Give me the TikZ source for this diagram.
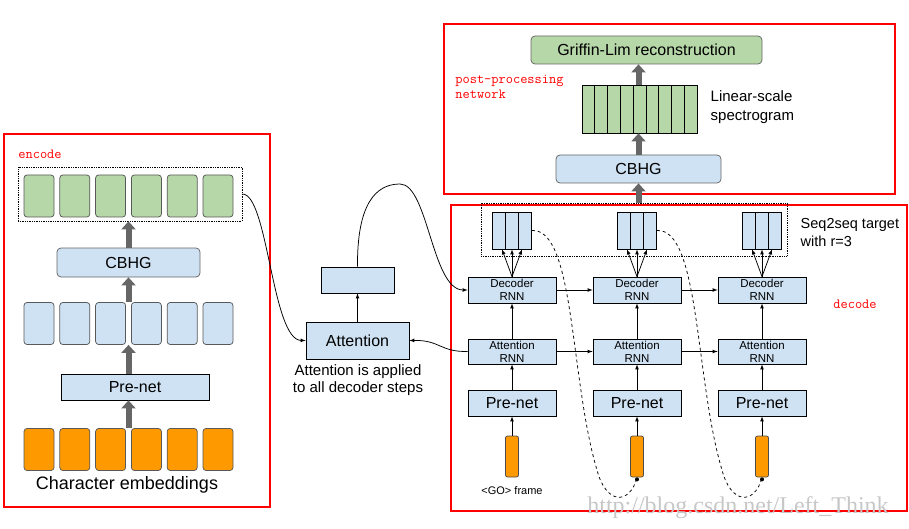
\documentclass[tikz,border=0pt]{standalone}
\usepackage{fontspec}
\setmainfont{Liberation Sans}
\newfontfamily\markfont{Liberation Serif}
\usepackage{xcolor}
\usetikzlibrary{arrows,arrows.meta,positioning}
\definecolor{cellgreen}{HTML}{B6D7A8}
\definecolor{cellblue}{HTML}{CFE2F3}
\definecolor{cellorange}{HTML}{FF9900}
\definecolor{fatgrey}{HTML}{666666}

\begin{document}
\begin{tikzpicture}[x=1pt, y=-1pt, >=latex, line width=0.75pt,
    cell/.style={draw=black!65, rounded corners=3pt, minimum width=30pt, minimum height=42pt, inner sep=0pt},
    box/.style={draw=black, fill=cellblue, inner sep=0pt, align=center},
    rbox/.style={box, draw=black!60, rounded corners=4pt},
    slot/.style={draw=black, fill=cellblue, minimum width=13pt, minimum height=37pt, inner sep=0pt},
    fat/.style={draw=fatgrey, line width=6pt, -{Triangle[length=8pt,width=14pt]}},
    redframe/.style={draw=red, line width=1.6pt},
    redlabel/.style={text=red, font=\ttfamily\fontsize{14}{15}\selectfont, align=left, anchor=west, inner sep=0pt},
    big/.style={font=\fontsize{16}{18}\selectfont},
    small/.style={font=\fontsize{11.5}{13}\selectfont}]
    \useasboundingbox (0,0) rectangle (909,529);

    % encoder
    \draw[redframe] (4,134) rectangle (270,507);
    \node[redlabel] (enclbl) at (18,154) {encode};
    \foreach \i in {0,...,5} {
        \node[cell, fill=cellgreen] (e\i) at (39+35.8*\i,196) {};
        \node[cell, fill=cellblue] (h\i) at (39+35.8*\i,323.5) {};
        \node[cell, fill=cellorange] (c\i) at (39+35.8*\i,449.5) {};
    }
    \node[draw, densely dotted, minimum width=224pt, minimum height=54pt] (enc) at (130,194) {};
    \node[rbox, big, minimum width=143pt, minimum height=29pt] (cbhg) at (128.5,262.5) {CBHG};
    \node[box, big, minimum width=148pt, minimum height=26pt] (pre) at (135,387) {Pre-net};
    \node[font=\fontsize{18}{20}\selectfont] (chars) at (127,485) {Character embeddings};
    \draw[fat] (cbhg |- c0.north) -- (cbhg |- pre.south);
    \draw[fat] (cbhg |- pre.north) -- (cbhg |- h0.south);
    \draw[fat] (cbhg |- h0.north) -- (cbhg.south);
    \draw[fat] (cbhg.north) -- (cbhg |- enc.south);

    % attention
    \node[box, big, minimum width=103pt, minimum height=37pt] (att) at (357.5,340.5) {Attention};
    \node[box, minimum width=73pt, minimum height=26pt] (ctx) at (357.5,280) {};
    \node[align=center, font=\fontsize{15}{17}\selectfont] (note) at (358,380) {Attention is applied\\to all decoder steps};
    \draw[->] (att) -- (ctx);

    % decoder
    \draw[redframe] (451,205) rectangle (907,511);
    \node[redlabel, anchor=center] (declbl) at (855,304) {decode};
    \node[draw, densely dotted, minimum width=306pt, minimum height=53pt] (tgt) at (634,229.5) {};
    \foreach \x [count=\k] in {512,637,762} {
        \node[box, small, minimum width=88pt, minimum height=26pt] (dec\k) at (\x,290) {Decoder\\RNN};
        \node[box, small, minimum width=88pt, minimum height=25pt] (arnn\k) at (\x,351.5) {Attention\\RNN};
        \node[box, big, minimum width=88pt, minimum height=26pt] (pn\k) at (\x,403) {Pre-net};
        \node[draw=black!70, fill=cellorange, rounded corners=2pt, minimum width=13pt, minimum height=41pt, inner sep=0pt] (go\k) at (\x,456.5) {};
        \node[slot] (ta\k) at (\x-13,230.5) {};
        \node[slot] (tb\k) at (\x,230.5) {};
        \node[slot] (tc\k) at (\x+13,230.5) {};
        \draw[->] (go\k) -- (pn\k);
        \draw[->] (pn\k) -- (arnn\k);
        \draw[->] (arnn\k) -- (dec\k);
        \draw[->] (dec\k.north) -- ([xshift=3pt]ta\k.south);
        \draw[->] (dec\k.north) -- (tb\k.south);
        \draw[->] (dec\k.north) -- ([xshift=-3pt]tc\k.south);
    }
    \draw[->] (dec1) -- (dec2);
    \draw[->] (dec2) -- (dec3);
    \draw[->] (arnn1) -- (arnn2);
    \draw[->] (arnn2) -- (arnn3);
    \node[anchor=north west, align=left, font=\fontsize{14.5}{18}\selectfont] (seqlbl) at (797,215) {Seq2seq target\\with r=3};
    \node[anchor=north, font=\fontsize{11}{13}\selectfont] (golbl) at (go1.south |- 0,483) {<GO> frame};

    % feedback of the output frames
    \draw[dashed] (tc1.east) .. controls (575,228) and (570,380) .. (597,470) .. controls (606,505) and (630,505) .. (go2.south);
    \draw[dashed] (tc2.east) .. controls (700,228) and (695,380) .. (722,470) .. controls (731,505) and (755,505) .. (go3.south);
    \fill ([yshift=-2pt]go2.south) circle (2pt);
    \fill ([yshift=-2pt]go3.south) circle (2pt);

    % links between encoder, attention and decoder
    \draw[->] (enc.east) .. controls (268,194) and (272,340) .. (att.west);
    \draw[->] (ctx.north) .. controls (357,205) and (375,184) .. (400,184) .. controls (428,184) and (432,290) .. (dec1.west);
    \draw[->] (arnn1.west) .. controls (440,352) and (440,340) .. (att.east);

    % post-processing
    \draw[redframe] (444,24) rectangle (895,194);
    \node[redlabel] (postlbl) at (455,86.5) {post-processing\\network};
    \node[rbox, big, fill=cellgreen, minimum width=231pt, minimum height=28pt] (gl) at (646.5,50) {Griffin-Lim reconstruction};
    \foreach \i in {0,...,8}
        \node[draw=black, fill=cellgreen, minimum width=12.8pt, minimum height=48pt, inner sep=0pt] (sp\i) at (588.4+12.8*\i,109) {};
    \node[rbox, big, minimum width=165pt, minimum height=28pt] (cbhg2) at (638.5,169) {CBHG};
    \node[anchor=west, align=left, font=\fontsize{15}{19}\selectfont] (lin) at (707,107) {Linear-scale\\spectrogram};
    \draw[fat] (cbhg2 |- tgt.north) -- (cbhg2.south);
    \draw[fat] (cbhg2.north) -- (cbhg2 |- sp0.south);
    \draw[fat] (cbhg2 |- sp0.north) -- (cbhg2 |- gl.south);

    \node[text=black!22, anchor=west, inner sep=0pt, font=\markfont\fontsize{24}{24}\selectfont] (mark) at (587,508) {http://blog.csdn.net/Left\_Think};
\end{tikzpicture}
\end{document}
